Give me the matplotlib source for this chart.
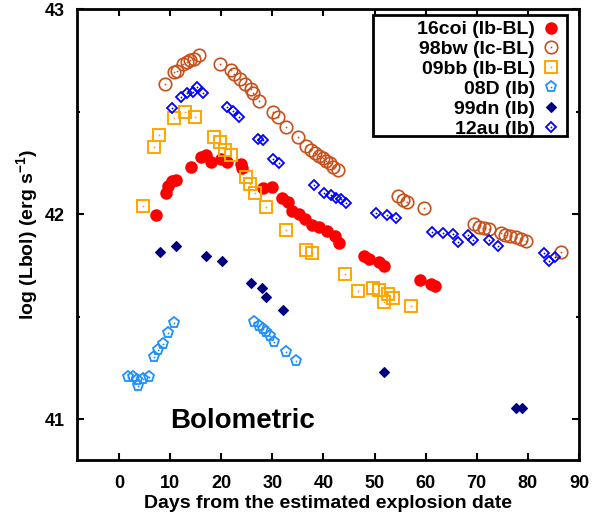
import matplotlib
matplotlib.use("Agg")
import matplotlib.pyplot as plt
from matplotlib.ticker import MultipleLocator
from matplotlib.patches import Rectangle

plt.rcParams['font.family'] = ['Liberation Sans', 'DejaVu Sans']
plt.rcParams['font.weight'] = 'bold'
plt.rcParams['axes.labelweight'] = 'bold'
plt.rcParams['mathtext.fontset'] = 'custom'
plt.rcParams['mathtext.rm'] = 'Liberation Sans:bold'
plt.rcParams['mathtext.bf'] = 'Liberation Sans:bold'
plt.rcParams['mathtext.default'] = 'bf'

# SN 2016coi (Ib-BL)
coi_x = [7.2, 9.2, 9.6, 10.3, 11.1, 14.1, 16.1, 17.1, 18.0, 20.0, 21.1, 23.9, 24.1,
         28.1, 30.0, 31.9, 33.0, 33.9, 35.3, 36.4, 37.8, 39.1, 40.7, 42.2, 43.0,
         48.0, 48.9, 50.8, 51.8, 58.9, 61.0, 61.9]
coi_y = [41.994, 42.103, 42.136, 42.16, 42.168, 42.233, 42.281, 42.287, 42.255, 42.272,
         42.256, 42.247, 42.225, 42.127, 42.133, 42.077, 42.06, 42.018, 42.0, 41.975,
         41.947, 41.94, 41.92, 41.892, 41.86, 41.798, 41.781, 41.765, 41.745, 41.68,
         41.661, 41.648]

# SN 1998bw (Ic-BL)
bw_x = [9.0, 10.7, 11.3, 12.6, 13.3, 14.0, 14.6, 15.7, 19.8, 22.0, 22.6, 23.6, 24.6,
        25.9, 26.3, 27.4, 30.1, 31.1, 32.6, 35.1, 36.6, 37.6, 38.4, 39.2, 39.9, 40.5,
        41.2, 41.95, 42.8, 54.5, 55.5, 56.45, 59.7, 69.5, 70.4, 71.4, 72.4, 74.7, 75.6,
        76.6, 77.6, 78.6, 79.7, 86.4]
bw_y = [42.635, 42.694, 42.70, 42.735, 42.745, 42.754, 42.76, 42.776, 42.734, 42.705,
        42.684, 42.66, 42.637, 42.61, 42.59, 42.553, 42.497, 42.474, 42.425, 42.375,
        42.335, 42.313, 42.298, 42.285, 42.274, 42.262, 42.25, 42.233, 42.215, 42.087,
        42.071, 42.058, 42.03, 41.953, 41.94, 41.934, 41.93, 41.906, 41.90, 41.894,
        41.888, 41.879, 41.867, 41.815]

# SN 2009bb (Ib-BL)
bb_x = [4.75, 6.8, 7.9, 10.7, 12.9, 14.8, 18.7, 19.7, 20.7, 21.9, 24.8, 25.7, 26.7,
        28.75, 32.7, 36.6, 37.7, 44.2, 46.7, 49.8, 50.8, 51.9, 52.7, 53.7, 57.2]
bb_y = [42.042, 42.326, 42.388, 42.472, 42.501, 42.477, 42.378, 42.355, 42.316, 42.29,
        42.181, 42.149, 42.105, 42.036, 41.921, 41.825, 41.81, 41.71, 41.623, 41.64,
        41.628, 41.57, 41.612, 41.591, 41.55]

# SN 2008D (Ib)
d08_x = [1.8, 2.8, 3.6, 3.8, 4.8, 5.9, 6.8, 7.7, 8.65, 9.6, 10.7,
         26.5, 27.4, 28.2, 28.8, 29.6, 30.4, 32.6, 34.7]
d08_y = [41.206, 41.203, 41.19, 41.16, 41.193, 41.206, 41.303, 41.339, 41.368, 41.42,
         41.469, 41.472, 41.453, 41.44, 41.423, 41.404, 41.375, 41.326, 41.282]

# SN 1999dn (Ib)
dn_x = [8.1, 11.1, 17.1, 20.2, 25.9, 28.0, 28.8, 32.1, 51.8, 77.6, 78.8]
dn_y = [41.814, 41.843, 41.794, 41.77, 41.664, 41.64, 41.596, 41.534, 41.228, 41.055, 41.055]

# SN 2012au (Ib)
au_x = [10.3, 12.2, 13.3, 14.4, 15.3, 16.45, 21.2, 22.3, 23.5, 27.2, 28.2, 30.15, 31.4,
        38.2, 40.2, 41.5, 42.5, 43.5, 44.45, 50.3, 52.4, 54.3, 61.2, 63.3, 65.3, 66.4,
        68.3, 69.2, 72.3, 74.2, 83.1, 84.15, 85.35]
au_y = [42.521, 42.572, 42.594, 42.599, 42.62, 42.591, 42.525, 42.503, 42.474, 42.368,
        42.362, 42.27, 42.248, 42.145, 42.106, 42.095, 42.079, 42.074, 42.055, 42.006,
        41.994, 41.981, 41.913, 41.909, 41.903, 41.863, 41.898, 41.876, 41.876, 41.843,
        41.809, 41.77, 41.79]

labels = ["16coi (Ib-BL)", "98bw (Ic-BL)", "09bb (Ib-BL)", "08D (Ib)", "99dn (Ib)", "12au (Ib)"]

series = [
    (coi_x, coi_y, dict(marker='o', ms=9, mfc='#ff0000', mec='#ff0000', mew=0), False),
    (bw_x, bw_y, dict(marker='o', ms=9, mfc='none', mec='#c8501a', mew=1.2), True),
    (bb_x, bb_y, dict(marker='s', ms=8.7, mfc='none', mec='#ffa500', mew=1.4), True),
    (d08_x, d08_y, dict(marker='p', ms=8, mfc='none', mec='#1e90ff', mew=1.3), True),
    (dn_x, dn_y, dict(marker='D', ms=5.3, mfc='#000080', mec='#000080', mew=0.8), False),
    (au_x, au_y, dict(marker='D', ms=5.3, mfc='none', mec='#0000ff', mew=1.3), True),
]

fig = plt.figure(figsize=(6.02, 5.14), dpi=100)
ax = fig.add_axes([0.1287, 0.1051, 0.8331, 0.8765])

handles = []
for x, y, st, dot in series:
    h, = ax.plot(x, y, ls='none', **st)
    if dot:
        d, = ax.plot(x, y, ls='none', marker='o', ms=1.3, mfc=st['mec'], mec='none')
        handles.append((h, d))
    else:
        handles.append((h,))

ax.set_xlim(-8.1, 90)
ax.set_ylim(40.80, 43.0)
ax.set_xticks(range(0, 91, 10))
ax.set_yticks([41, 42, 43])
ax.yaxis.set_minor_locator(MultipleLocator(0.5))

for s in ax.spines.values():
    s.set_linewidth(2)
ax.tick_params(which='both', direction='in', top=True, right=True, width=1.5)
ax.tick_params(which='major', length=5, labelsize=13)
ax.tick_params(axis='x', which='major', pad=11)
ax.tick_params(axis='y', which='major', pad=9.5)
ax.tick_params(which='minor', length=2.5)

ax.set_xlabel("Days from the estimated explosion date", fontsize=14, fontweight='bold', labelpad=2)
ax.set_ylabel("log (Lbol) (erg s$^{-1}$)", fontsize=14, fontweight='bold', labelpad=3)

ax.text(10.1, 40.954, "Bolometric", fontsize=20, fontweight='bold', va='baseline')

# legend with a square black frame
ax.add_patch(Rectangle((0.589, 0.719), 0.976 - 0.589, 0.988 - 0.719, transform=ax.transAxes,
                       fill=False, ec='black', lw=2, zorder=5))
ax.legend(handles, labels, loc='upper right', bbox_to_anchor=(0.9635, 0.975),
          frameon=False, markerfirst=False, alignment='right', fontsize=14,
          borderpad=0, borderaxespad=0, handlelength=1.0, handletextpad=0.32,
          labelspacing=0.12, numpoints=1)

fig.savefig('out.png', dpi=100)
